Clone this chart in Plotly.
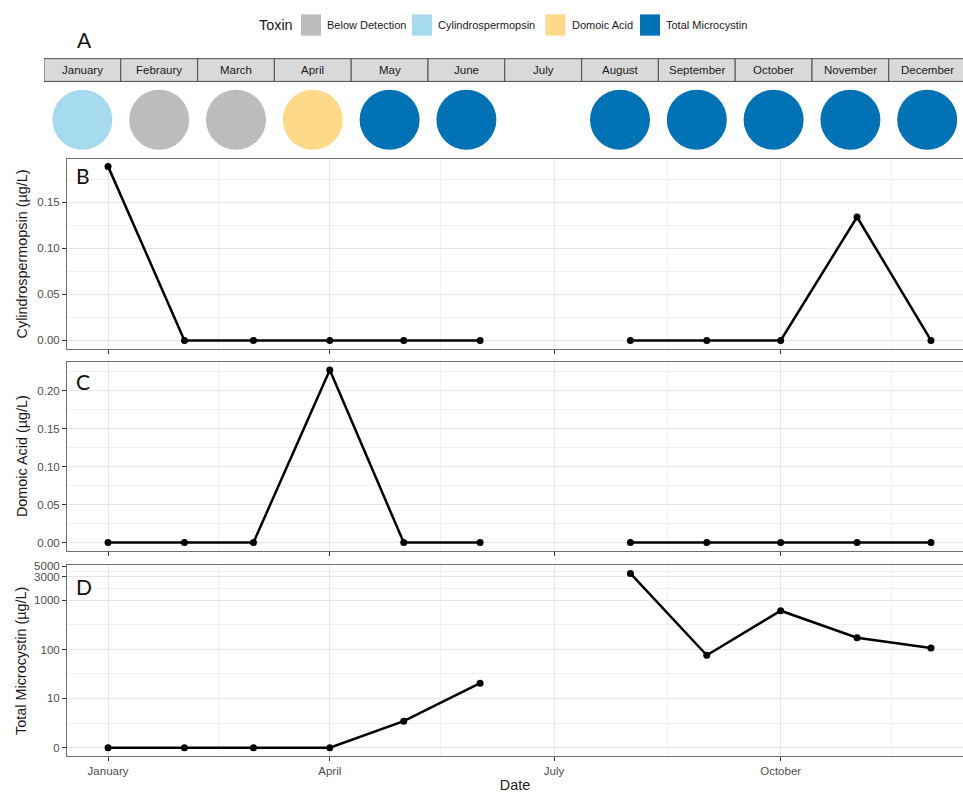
import numpy as np
import plotly.graph_objects as go

# ---------------------------------------------------------------- data
months = ["January", "Febraury", "March", "April", "May", "June", "July",
          "August", "September", "October", "November", "December"]
sample_dates = ["2019-01-01", "2019-02-01", "2019-03-01", "2019-04-01",
                "2019-05-01", "2019-06-01", "2019-07-01", "2019-08-01",
                "2019-09-01", "2019-10-01", "2019-11-01", "2019-12-01"]

# dominant toxin per month (no sample in July)
dominant_toxin = ["Cylindrospermopsin", "Below Detection", "Below Detection",
                  "Domoic Acid", "Total Microcystin", "Total Microcystin", None,
                  "Total Microcystin", "Total Microcystin", "Total Microcystin",
                  "Total Microcystin", "Total Microcystin"]

cylindrospermopsin = [0.189, 0, 0, 0, 0, 0, None, 0, 0, 0, 0.134, 0]
domoic_acid = [0, 0, 0, 0.227, 0, 0, None, 0, 0, 0, 0, 0]
total_microcystin = [0, 0, 0, 0, 3.2, 20.6, None, 3550, 76.6, 617, 174, 108]

toxin_levels = ["Below Detection", "Cylindrospermopsin", "Domoic Acid", "Total Microcystin"]
toxin_colors = ["#BBBCBD", "#A6DAEF", "#FFD98A", "#0072B5"]

date_ticks = ["2019-01-01", "2019-04-01", "2019-07-01", "2019-10-01"]
date_tick_labels = ["January", "April", "July", "October"]
date_minor = ["2019-02-15", "2019-05-16", "2019-08-16", "2019-11-15"]

cy_ticks = [0.00, 0.05, 0.10, 0.15]
da_ticks = [0.00, 0.05, 0.10, 0.15, 0.20]
mc_ticks = [0, 10, 100, 1000, 3000, 5000]

# ---------------------------------------------------------------- helpers
W, H = 963, 793


def px(x):
    return x / W


def py(y):
    return 1 - y / H


def pseudo_log10(v):
    v = np.asarray([np.nan if a is None else a for a in v], dtype=float)
    return np.arcsinh(v / 2) / np.log(10)


def fmt2(v):
    return f"{v:.2f}"


GRID = "#E6E6E6"
GRID_MINOR = "#F0F0F0"
BORDER = "#707070"
TICK_FONT = dict(family="Liberation Sans, Arial", size=11.5, color="#4D4D4D")
TITLE_FONT = dict(family="Liberation Sans, Arial", size=14.4, color="#1A1A1A")
LINE = dict(color="black", width=2.5)
MARK = dict(color="black", size=7)

fig = go.Figure()

# ---------------------------------------------------------------- panel A: monthly dominant toxin
strip_top, strip_bot = 54.3, 77.3
a_top, a_bot = 80.0, 152.0          # pixel extent of the circle row
circle_y = 116.0
circle_v = (a_bot - circle_y) / (a_bot - a_top)

for name, col in zip(toxin_levels, toxin_colors):
    xs = [i + 1 for i, t in enumerate(dominant_toxin) if t == name]
    fig.add_trace(go.Scatter(
        x=xs, y=[circle_v] * len(xs), mode="markers",
        marker=dict(size=60, color=col, line=dict(width=0)),
        xaxis="x4", yaxis="y4", showlegend=False, cliponaxis=False,
        hoverinfo="skip"))

shapes = []
annotations = []
for i, m in enumerate(months):
    shapes.append(dict(type="rect", xref="x4", yref="paper",
                       x0=i + 0.5, x1=i + 1.5, y0=py(strip_bot), y1=py(strip_top),
                       fillcolor="#D9D9D9", line=dict(color="#4D4D4D", width=1),
                       layer="below"))
    annotations.append(dict(xref="x4", yref="paper", x=i + 1,
                            y=py((strip_top + strip_bot) / 2), text=m,
                            showarrow=False, xanchor="center", yanchor="middle",
                            font=dict(family="Liberation Sans, Arial", size=11.5,
                                      color="#1A1A1A")))

# ---------------------------------------------------------------- panels B, C, D: time series
fig.add_trace(go.Scatter(x=sample_dates, y=cylindrospermopsin, mode="lines+markers",
                         line=LINE, marker=MARK, xaxis="x", yaxis="y",
                         showlegend=False, connectgaps=False))
fig.add_trace(go.Scatter(x=sample_dates, y=domoic_acid, mode="lines+markers",
                         line=LINE, marker=MARK, xaxis="x2", yaxis="y2",
                         showlegend=False, connectgaps=False))
fig.add_trace(go.Scatter(x=sample_dates, y=pseudo_log10(total_microcystin),
                         customdata=total_microcystin,
                         hovertemplate="%{x}: %{customdata}<extra></extra>",
                         mode="lines+markers", line=LINE, marker=MARK,
                         xaxis="x3", yaxis="y3", showlegend=False,
                         connectgaps=False))

x_range = ["2018-12-15 08:00", "2019-12-14 00:00"]
x_dom = [px(67), 1.0]


def date_axis(show_labels, anchor, title=None):
    ax = dict(type="date", range=x_range, domain=x_dom, anchor=anchor,
              tickvals=date_ticks, ticktext=date_tick_labels,
              showticklabels=show_labels, ticks="outside", ticklen=4,
              tickcolor="#333333", tickwidth=1, tickfont=TICK_FONT,
              showgrid=True, gridcolor=GRID, gridwidth=1,
              minor=dict(tickvals=date_minor, showgrid=True, gridcolor=GRID_MINOR,
                         gridwidth=1, ticks=""),
              showline=True, linecolor=BORDER, linewidth=1, mirror=True,
              zeroline=False, fixedrange=True)
    if title:
        ax["title"] = dict(text=title, font=TITLE_FONT, standoff=6)
    return ax


def value_axis(dom, rng, tickvals, ticktext, minor_vals, anchor, title, standoff):
    return dict(domain=dom, range=rng, anchor=anchor,
                tickvals=tickvals, ticktext=ticktext,
                ticks="outside", ticklen=4, tickcolor="#333333", tickwidth=1,
                tickfont=TICK_FONT,
                showgrid=True, gridcolor=GRID, gridwidth=1,
                minor=dict(tickvals=minor_vals, showgrid=True,
                           gridcolor=GRID_MINOR, gridwidth=1, ticks=""),
                showline=True, linecolor=BORDER, linewidth=1, mirror=False,
                zeroline=False, fixedrange=True,
                title=dict(text=title, font=TITLE_FONT, standoff=standoff))


mc_t = pseudo_log10(mc_ticks)
mc_minor = list((mc_t[:-1] + mc_t[1:]) / 2)

layout = dict(
    width=W, height=H, margin=dict(l=0, r=0, t=0, b=0),
    paper_bgcolor="white", plot_bgcolor="white",
    font=dict(family="Liberation Sans, Arial"),
    xaxis=date_axis(False, "y"),
    yaxis=value_axis([py(348), py(155.5)], [-0.0094, 0.1973], cy_ticks,
                     [fmt2(v) for v in cy_ticks],
                     [v + 0.025 for v in cy_ticks], "x",
                     "Cylindrospermopsin (µg/L)", 6),
    xaxis2=date_axis(False, "y2"),
    yaxis2=value_axis([py(552), py(360.6)], [-0.0108, 0.2383], da_ticks,
                      [fmt2(v) for v in da_ticks],
                      [v + 0.025 for v in da_ticks], "x2",
                      "Domoic Acid (µg/L)", 6),
    xaxis3=date_axis(True, "y3", "Date"),
    yaxis3=value_axis([py(760), py(566.7)], [-0.175, 3.716], list(mc_t),
                      [str(v) for v in mc_ticks], mc_minor, "x3",
                      "Total Microcystin (µg/L)", 4),
    xaxis4=dict(domain=[px(44), 1.0], range=[0.5, 0.5 + (W - 44) / 76.8],
                visible=False, fixedrange=True, anchor="y4"),
    yaxis4=dict(domain=[py(a_bot), py(a_top)], range=[0, 1], visible=False,
                fixedrange=True, anchor="x4"),
)

# panel letters
for letter, (lx, ly) in zip(["A", "B", "C", "D"],
                            [(84, 35), (83, 172), (83, 380.5), (83.5, 588)]):
    annotations.append(dict(xref="paper", yref="paper", x=px(lx), y=py(ly),
                            text=letter, showarrow=False, xanchor="center",
                            yanchor="middle",
                            font=dict(family="Lato, Open Sans", size=21,
                                      color="#111111")))

# toxin legend
annotations.append(dict(xref="paper", yref="paper", x=px(257), y=py(20),
                        text="Toxin", showarrow=False, xanchor="left",
                        yanchor="middle", font=dict(family="Liberation Sans, Arial",
                                                    size=14.4, color="#1A1A1A")))
swatch_left = [301, 412, 545.5, 640]
for name, col, sx in zip(toxin_levels, toxin_colors, swatch_left):
    shapes.append(dict(type="rect", xref="paper", yref="paper",
                       x0=px(sx), x1=px(sx + 20), y0=py(31), y1=py(9.5),
                       fillcolor=col, line=dict(width=0)))
    annotations.append(dict(xref="paper", yref="paper", x=px(sx + 24), y=py(20),
                            text=name, showarrow=False, xanchor="left",
                            yanchor="middle",
                            font=dict(family="Liberation Sans, Arial", size=11,
                                      color="#1A1A1A")))

layout["shapes"] = shapes
layout["annotations"] = annotations
fig.update_layout(**layout)

fig.write_html("out.html")
